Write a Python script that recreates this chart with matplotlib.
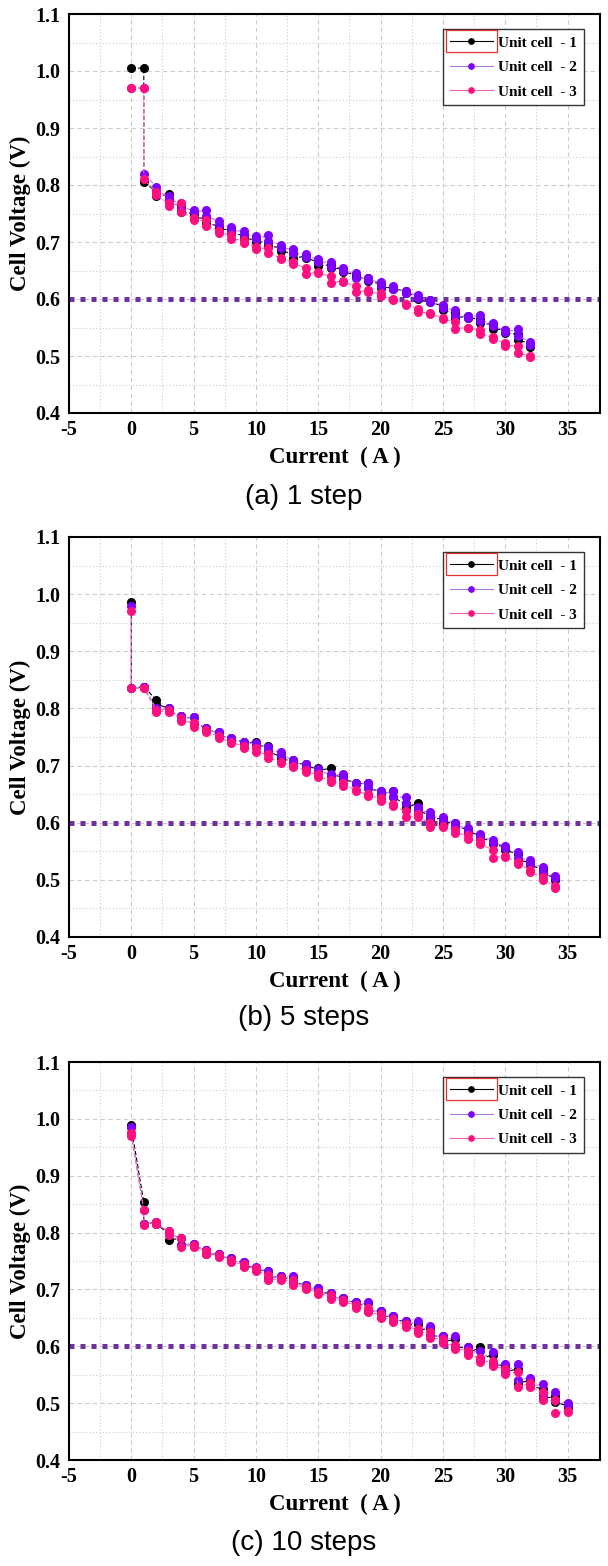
import matplotlib
matplotlib.use('Agg')
import matplotlib.pyplot as plt
from matplotlib.patches import Rectangle
from matplotlib.ticker import MultipleLocator

plt.rcParams['axes.unicode_minus'] = False

# ---- data: (current, voltage) for each unit cell ----
# (a) 1 step
cur_a = [0, 1, 1, 2, 2, 3, 3, 4, 4, 5, 5, 6, 6, 7, 7, 8, 8, 9, 9, 10, 10,
         11, 11, 12, 12, 13, 13, 14, 14, 15, 15, 16, 16, 17, 17, 18, 18, 19, 19, 20, 20,
         21, 21, 22, 22, 23, 23, 24, 24, 25, 25, 26, 26, 27, 27, 28, 28, 29, 29, 30, 30,
         31, 31, 32, 32]
cell1_a = [1.005, 1.005, 0.806, 0.788, 0.780, 0.784, 0.772, 0.762, 0.752, 0.750, 0.742,
           0.742, 0.733, 0.728, 0.722, 0.722, 0.715, 0.712, 0.705, 0.705, 0.700,
           0.700, 0.693, 0.690, 0.684, 0.680, 0.672, 0.675, 0.672, 0.665, 0.658,
           0.660, 0.655, 0.652, 0.648, 0.642, 0.638, 0.636, 0.632, 0.626, 0.620,
           0.620, 0.618, 0.614, 0.610, 0.605, 0.600, 0.598, 0.594, 0.588, 0.580,
           0.575, 0.567, 0.570, 0.567, 0.565, 0.558, 0.555, 0.548, 0.545, 0.540,
           0.538, 0.528, 0.522, 0.515]
cell2_a = [0.970, 0.970, 0.820, 0.797, 0.790, 0.780, 0.775, 0.768, 0.760, 0.756, 0.752,
           0.756, 0.745, 0.737, 0.730, 0.727, 0.720, 0.719, 0.712, 0.711, 0.706,
           0.712, 0.702, 0.695, 0.690, 0.687, 0.680, 0.679, 0.674, 0.671, 0.665,
           0.665, 0.656, 0.655, 0.650, 0.645, 0.636, 0.637, 0.633, 0.630, 0.622,
           0.622, 0.618, 0.614, 0.611, 0.607, 0.602, 0.598, 0.594, 0.590, 0.585,
           0.580, 0.570, 0.570, 0.567, 0.572, 0.562, 0.558, 0.552, 0.545, 0.542,
           0.547, 0.535, 0.525, 0.520]
cell3_a = [0.970, 0.970, 0.810, 0.788, 0.782, 0.768, 0.763, 0.768, 0.752, 0.742, 0.738,
           0.738, 0.728, 0.720, 0.716, 0.712, 0.706, 0.703, 0.698, 0.692, 0.688,
           0.690, 0.680, 0.672, 0.670, 0.665, 0.662, 0.655, 0.643, 0.648, 0.645,
           0.640, 0.628, 0.632, 0.630, 0.622, 0.612, 0.615, 0.612, 0.610, 0.605,
           0.600, 0.598, 0.592, 0.590, 0.583, 0.577, 0.575, 0.573, 0.567, 0.565,
           0.560, 0.548, 0.550, 0.550, 0.545, 0.538, 0.533, 0.530, 0.523, 0.518,
           0.518, 0.505, 0.500, 0.498]

# (b) 5 steps
cur_b = [0, 0, 1, 1, 2, 2, 3, 3, 4, 4, 5, 5, 6, 6, 7, 7, 8, 8, 9, 9, 10, 10,
         11, 11, 12, 12, 13, 13, 14, 14, 15, 15, 16, 16, 17, 17, 18, 18, 19, 19, 20, 20,
         21, 21, 22, 22, 23, 23, 24, 24, 25, 25, 26, 26, 27, 27, 28, 28, 29, 29, 30, 30,
         31, 31, 32, 32, 33, 33, 34, 34]
cell1_b = [0.987, 0.835, 0.838, 0.838, 0.815, 0.808, 0.800, 0.795, 0.787, 0.782,
           0.785, 0.775, 0.766, 0.762, 0.758, 0.752, 0.749, 0.745, 0.742, 0.738,
           0.742, 0.735, 0.734, 0.725, 0.715, 0.710, 0.710, 0.705, 0.702, 0.698,
           0.695, 0.692, 0.695, 0.684, 0.680, 0.676, 0.670, 0.667, 0.670, 0.660,
           0.655, 0.650, 0.655, 0.645, 0.632, 0.625, 0.635, 0.622, 0.612, 0.606,
           0.608, 0.600, 0.600, 0.594, 0.588, 0.584, 0.578, 0.573, 0.568, 0.562,
           0.558, 0.552, 0.545, 0.535, 0.530, 0.526, 0.518, 0.512, 0.503, 0.500]
cell2_b = [0.980, 0.835, 0.838, 0.838, 0.800, 0.797, 0.800, 0.795, 0.787, 0.782,
           0.785, 0.775, 0.766, 0.762, 0.758, 0.752, 0.749, 0.745, 0.742, 0.738,
           0.740, 0.735, 0.733, 0.725, 0.724, 0.718, 0.710, 0.705, 0.702, 0.698,
           0.694, 0.690, 0.685, 0.682, 0.685, 0.678, 0.670, 0.667, 0.670, 0.660,
           0.655, 0.650, 0.655, 0.645, 0.645, 0.635, 0.627, 0.622, 0.618, 0.610,
           0.610, 0.605, 0.600, 0.595, 0.590, 0.585, 0.580, 0.575, 0.570, 0.565,
           0.560, 0.555, 0.548, 0.538, 0.535, 0.528, 0.522, 0.513, 0.507, 0.503]
cell3_b = [0.970, 0.835, 0.835, 0.835, 0.797, 0.793, 0.797, 0.793, 0.783, 0.778,
           0.775, 0.768, 0.762, 0.759, 0.752, 0.748, 0.742, 0.740, 0.735, 0.730,
           0.730, 0.723, 0.720, 0.713, 0.707, 0.705, 0.700, 0.697, 0.692, 0.688,
           0.685, 0.680, 0.675, 0.672, 0.670, 0.665, 0.658, 0.655, 0.650, 0.647,
           0.643, 0.638, 0.632, 0.630, 0.620, 0.610, 0.615, 0.610, 0.600, 0.592,
           0.595, 0.592, 0.588, 0.582, 0.578, 0.572, 0.568, 0.562, 0.553, 0.538,
           0.542, 0.540, 0.532, 0.527, 0.518, 0.513, 0.505, 0.500, 0.490, 0.486]

# (c) 10 steps
cur_c = [0, 0, 1, 1, 2, 2, 3, 3, 4, 4, 5, 5, 6, 6, 7, 7, 8, 8, 9, 9, 10, 10,
         11, 11, 12, 12, 13, 13, 14, 14, 15, 15, 16, 16, 17, 17, 18, 18, 19, 19, 20, 20,
         21, 21, 22, 22, 23, 23, 24, 24, 25, 25, 26, 26, 27, 27, 28, 28, 29, 29, 30, 30,
         31, 31, 32, 32, 33, 33, 34, 34, 35, 35]
cell1_c = [0.990, 0.985, 0.853, 0.815, 0.818, 0.815, 0.798, 0.787, 0.790, 0.778,
           0.780, 0.776, 0.770, 0.762, 0.762, 0.758, 0.755, 0.750, 0.748, 0.742,
           0.738, 0.735, 0.732, 0.720, 0.724, 0.718, 0.722, 0.712, 0.708, 0.702,
           0.702, 0.695, 0.693, 0.686, 0.685, 0.680, 0.678, 0.670, 0.676, 0.662,
           0.662, 0.652, 0.653, 0.645, 0.645, 0.636, 0.640, 0.628, 0.632, 0.618,
           0.618, 0.608, 0.612, 0.598, 0.598, 0.588, 0.598, 0.578, 0.585, 0.568,
           0.566, 0.555, 0.560, 0.535, 0.540, 0.530, 0.525, 0.508, 0.512, 0.502,
           0.495, 0.493]
cell2_c = [0.985, 0.975, 0.840, 0.815, 0.818, 0.815, 0.802, 0.798, 0.790, 0.778,
           0.780, 0.776, 0.770, 0.762, 0.762, 0.758, 0.755, 0.750, 0.748, 0.742,
           0.740, 0.735, 0.733, 0.720, 0.724, 0.718, 0.724, 0.712, 0.708, 0.702,
           0.702, 0.695, 0.694, 0.686, 0.685, 0.680, 0.678, 0.670, 0.678, 0.662,
           0.662, 0.652, 0.654, 0.645, 0.645, 0.636, 0.645, 0.628, 0.636, 0.618,
           0.618, 0.608, 0.618, 0.600, 0.598, 0.588, 0.592, 0.578, 0.590, 0.568,
           0.568, 0.555, 0.568, 0.540, 0.545, 0.530, 0.533, 0.515, 0.520, 0.505,
           0.500, 0.497]
cell3_c = [0.975, 0.970, 0.840, 0.813, 0.818, 0.815, 0.802, 0.795, 0.790, 0.775,
           0.778, 0.775, 0.768, 0.762, 0.760, 0.757, 0.752, 0.748, 0.745, 0.740,
           0.737, 0.733, 0.725, 0.716, 0.720, 0.716, 0.716, 0.708, 0.704, 0.700,
           0.696, 0.692, 0.690, 0.684, 0.682, 0.678, 0.673, 0.668, 0.668, 0.660,
           0.656, 0.650, 0.648, 0.642, 0.640, 0.634, 0.630, 0.624, 0.625, 0.615,
           0.612, 0.605, 0.602, 0.596, 0.592, 0.585, 0.580, 0.572, 0.575, 0.565,
           0.560, 0.552, 0.555, 0.528, 0.535, 0.528, 0.520, 0.505, 0.505, 0.482,
           0.487, 0.485]

panels = [
    ('(a) 1 step', cur_a, [cell1_a, cell2_a, cell3_a]),
    ('(b) 5 steps', cur_b, [cell1_b, cell2_b, cell3_b]),
    ('(c) 10 steps', cur_c, [cell1_c, cell2_c, cell3_c]),
]

labels = ['Unit cell  - 1', 'Unit cell  - 2', 'Unit cell  - 3']
marker_colors = ['#000000', '#7f00ff', '#ff1080']
line_colors = ['#000000', '#b07ae8', '#f06aae']

serif = ['Liberation Serif', 'DejaVu Serif']
sans = ['Liberation Sans', 'DejaVu Sans']

# pixel layout of the three axes (top, bottom) and caption centres
axes_rows = [(14, 413), (537, 937), (1062, 1460)]
caption_y = [497, 1018, 1543]
W, H = 608, 1566
left_px, right_px = 69, 600

fig = plt.figure(figsize=(W / 100, H / 100), dpi=100)

axes_list = []
for (caption, cur, cells), (top, bot), cy in zip(panels, axes_rows, caption_y):
    ax = fig.add_axes([left_px / W, 1 - bot / H, (right_px - left_px) / W, (bot - top) / H])
    axes_list.append(ax)

    ax.set_xlim(-5, 37.6)
    ax.set_ylim(0.4, 1.1)
    ax.xaxis.set_major_locator(MultipleLocator(5))
    ax.xaxis.set_minor_locator(MultipleLocator(2.5))
    ax.yaxis.set_major_locator(MultipleLocator(0.1))
    ax.yaxis.set_minor_locator(MultipleLocator(0.05))
    ax.grid(which='major', color='#cccccc', linestyle=(0, (4, 3)), linewidth=0.8)
    ax.grid(which='minor', color='#cccccc', linestyle=(0, (1, 2)), linewidth=0.8)
    ax.set_axisbelow(True)

    ax.axhline(0.6, color='#7030a0', linewidth=3.6, linestyle=(0, (1, 1.2)), zorder=2)

    for vals, lab, mc, lc in zip(cells, labels, marker_colors, line_colors):
        ax.plot(cur, vals, linestyle=(0, (4, 2)), color=lc, linewidth=0.8,
                marker='o', markersize=5.5, markerfacecolor=mc, markeredgecolor=mc,
                label=lab, zorder=3)

    ax.tick_params(which='both', length=0)
    ax.tick_params(axis='x', pad=5)
    ax.tick_params(axis='y', pad=6)
    ax.set_yticks([0.4, 0.5, 0.6, 0.7, 0.8, 0.9, 1.0, 1.1])
    ax.set_yticklabels(['0.4', '0.5', '0.6', '0.7', '0.8', '0.9', '1.0', '1.1'])
    for t in ax.get_xticklabels() + ax.get_yticklabels():
        t.set_fontfamily(serif)
        t.set_fontweight('bold')
        t.set_fontsize(14.5)
    for s in ax.spines.values():
        s.set_linewidth(1.5)
        s.set_color('black')

    ax.set_xlabel('Current  ( A )', fontfamily=serif, fontweight='bold', fontsize=16.5, labelpad=5)
    ax.set_ylabel('Cell Voltage (V)', fontfamily=serif, fontweight='bold', fontsize=16.5, labelpad=3)

    leg = ax.legend(loc='upper right', bbox_to_anchor=(0.970, 0.962), borderaxespad=0,
                    prop={'family': serif, 'weight': 'bold', 'size': 11},
                    fancybox=False, edgecolor='#333333', framealpha=1,
                    handlelength=2.8, markerscale=0.7, labelspacing=0.7,
                    borderpad=0.45, handletextpad=0.35)
    leg.get_frame().set_linewidth(1.0)
    for h in leg.legend_handles:
        h.set_linestyle('-')

    fig.text(0.5, 1 - cy / H, caption, ha='center', va='center',
             fontfamily=sans, fontsize=20)

# red selection box around the first legend handle, as in the original
fig.canvas.draw()
renderer = fig.canvas.get_renderer()
inv = fig.transFigure.inverted()
for ax in axes_list:
    leg = ax.get_legend()
    bb = leg.legend_handles[0].get_window_extent(renderer)
    cyy = (bb.y0 + bb.y1) / 2
    x0, x1 = bb.x0 - 1, bb.x1 + 1
    y0, y1 = cyy - 11, cyy + 11
    (fx0, fy0), (fx1, fy1) = inv.transform([(x0, y0), (x1, y1)])
    fig.patches.append(Rectangle((fx0, fy0), fx1 - fx0, fy1 - fy0, transform=fig.transFigure,
                                 fill=False, edgecolor='#e03030', linewidth=0.9, zorder=10))

fig.savefig('out.png', dpi=100)
plt.close(fig)
